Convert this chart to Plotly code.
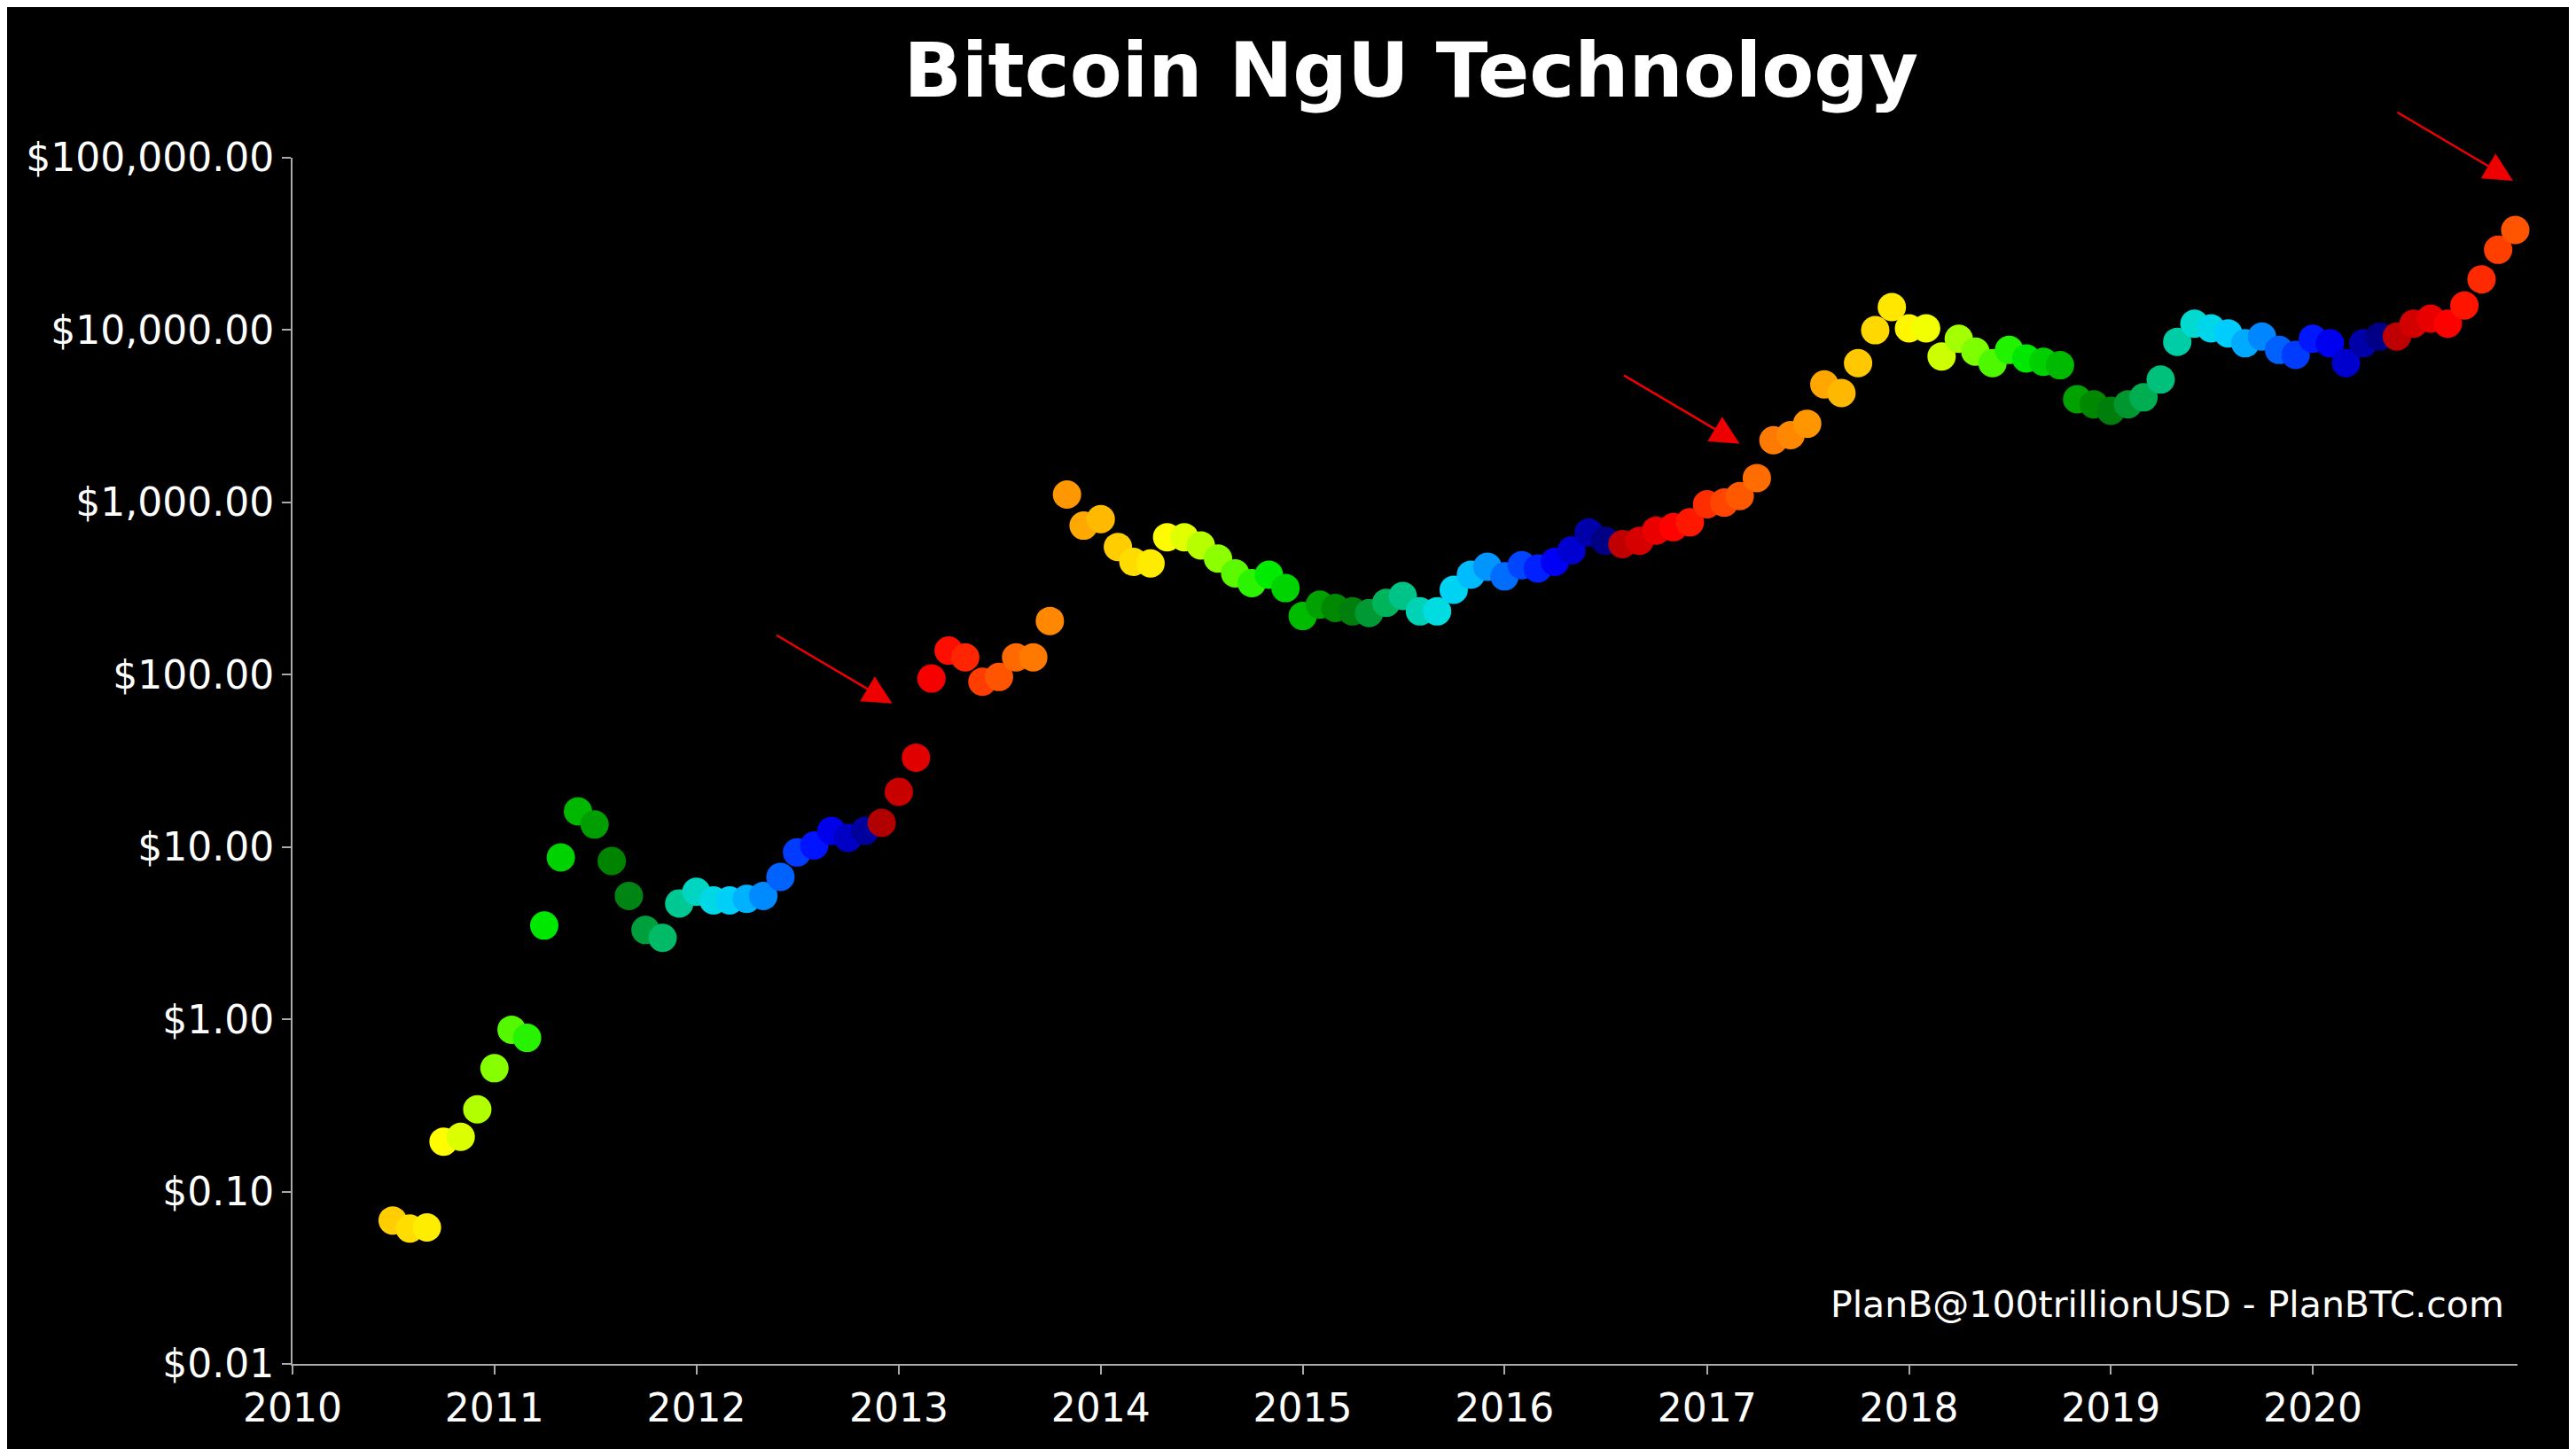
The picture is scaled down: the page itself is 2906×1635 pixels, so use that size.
import math
import plotly.graph_objects as go
import pandas as pd

title = "Bitcoin NgU Technology"
start_month = "2010-07-01"
prices = [0.068,0.061,0.062,0.195,0.208,0.30,0.52,0.87,0.78,3.5,8.7,16.1,13.5,8.3,5.2,3.3,2.97,4.7,5.5,4.9,4.9,5.0,5.2,6.7,
          9.3,10.2,12.4,11.3,12.4,13.8,20.9,33,95,138,126,91,97,126,126,205,1110,733,800,551,452,442,628,628,562,472,387,340,380,318,
          219,255,244,233,228,261,286,233,233,311,380,423,372,432,413,452,527,670,599,572,599,686,718,766,975,997,1087,1384,
          2295,2455,2860,4835,4310,6430,9980,13590,10230,10230,7030,8900,7500,6430,7670,6850,6550,6250,3970,3710,3400,3710,4070,
          5160,8550,10890,10230,9570,8380,9170,7670,7180,8900,8380,6430,8380,9170,9170,10890,11650,10890,13870,19700,29240,38100]
halvings = ["2009-05-01", "2012-11-28", "2016-07-09", "2020-05-11", "2024-04-20"]
arrow_dates = ["2012-12-20", "2017-03-01", "2020-12-28"]
arrow_values = [68, 2190, 73600]
ytick_vals = [0.01, 0.1, 1, 10, 100, 1000, 10000, 100000]
ytick_text = ["$0.01", "$0.10", "$1.00", "$10.00", "$100.00", "$1,000.00", "$10,000.00", "$100,000.00"]
xtick_years = list(range(2010, 2021))

dates = pd.date_range(start_month, periods=len(prices), freq="MS")
hv = pd.to_datetime(halvings)
cvals = []
for d in dates:
    for i in range(len(hv) - 1):
        if hv[i] <= d < hv[i + 1]:
            cvals.append((d - hv[i]) / (hv[i + 1] - hv[i]))
            break

cscale = [[0, "#b00000"], [0.08, "#ff0000"], [0.18, "#ff6600"], [0.26, "#ff9900"], [0.33, "#ffd000"],
          [0.4, "#ffff00"], [0.47, "#80ff00"], [0.53, "#00ee00"], [0.58, "#00bb00"], [0.64, "#007700"],
          [0.7, "#00bb66"], [0.76, "#00dddd"], [0.8, "#00ccff"], [0.86, "#0066ff"], [0.92, "#0000ff"],
          [1, "#00007a"]]

fig = go.Figure(go.Scatter(x=dates, y=prices, mode="markers", cliponaxis=False,
                           marker=dict(size=32, color=cvals, colorscale=cscale, cmin=0, cmax=1,
                                       line=dict(width=0))))

for d, v in zip(arrow_dates, arrow_values):
    fig.add_annotation(x=d, y=math.log10(v), ax=-132, ay=-78, xref="x", yref="y", showarrow=True,
                       arrowhead=2, arrowsize=2.6, arrowwidth=2.5, arrowcolor="#ee0000", text="",
                       standoff=0)

fig.add_annotation(text="PlanB@100trillionUSD - PlanBTC.com", xref="paper", yref="paper",
                   x=0.995, y=0.03, xanchor="right", yanchor="bottom", showarrow=False,
                   font=dict(size=41, color="white", family="DejaVu Sans"))

fig.update_layout(
    width=2906, height=1635, paper_bgcolor="black", plot_bgcolor="black",
    margin=dict(l=322, r=74, t=170, b=104),
    title=dict(text="<b>" + title + "</b>", x=0.545, xanchor="center", y=0.975, yanchor="top",
               font=dict(size=86, color="white", family="DejaVu Sans")),
    font=dict(family="DejaVu Sans", color="white", size=44),
    showlegend=False,
    xaxis=dict(range=["2010-01-01", "2021-01-05"], tickvals=[f"{y}-01-01" for y in xtick_years],
               ticktext=[str(y) for y in xtick_years], showgrid=False, zeroline=False,
               showline=True, linecolor="#aaaaaa", linewidth=2, ticks="outside", tickcolor="#aaaaaa",
               ticklen=10, tickwidth=2),
    yaxis=dict(type="log", range=[-2, 5], tickvals=ytick_vals, ticktext=ytick_text, showgrid=False,
               zeroline=False, showline=True, linecolor="#aaaaaa", linewidth=2, ticks="outside",
               tickcolor="#aaaaaa", ticklen=10, tickwidth=2),
)
fig.write_html("out.html")
